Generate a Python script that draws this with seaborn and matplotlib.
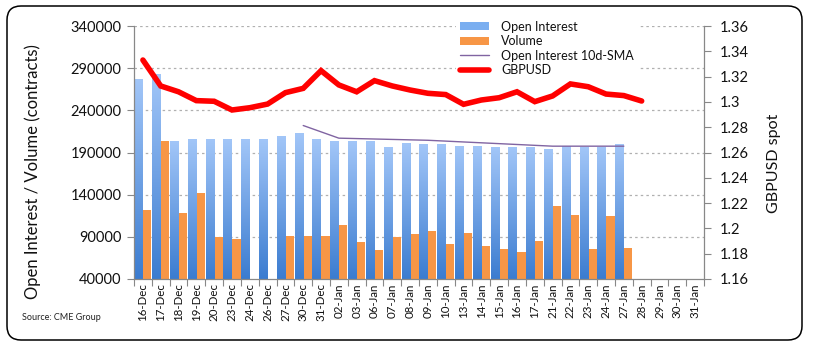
import numpy as np
import pandas as pd
import matplotlib
matplotlib.use("Agg")
import matplotlib.pyplot as plt
import seaborn as sns
from matplotlib.patches import FancyBboxPatch, Patch
from matplotlib.lines import Line2D
from matplotlib.colors import LinearSegmentedColormap
from matplotlib.ticker import FuncFormatter, MultipleLocator

nan = np.nan

dates = ["16-Dec", "17-Dec", "18-Dec", "19-Dec", "20-Dec", "23-Dec", "24-Dec", "26-Dec",
         "27-Dec", "30-Dec", "31-Dec", "02-Jan", "03-Jan", "06-Jan", "07-Jan", "08-Jan",
         "09-Jan", "10-Jan", "13-Jan", "14-Jan", "15-Jan", "16-Jan", "17-Jan", "21-Jan",
         "22-Jan", "23-Jan", "24-Jan", "27-Jan", "28-Jan", "29-Jan", "30-Jan", "31-Jan"]

open_interest = [277000, 283000, 202500, 206000, 206000, 206000, 205000, 206000,
                 209500, 212000, 206000, 202500, 202500, 202500, 196500, 201000,
                 199000, 199000, 197500, 197500, 196500, 196500, 196500, 194000,
                 197500, 196500, 196500, 200000, nan, nan, nan, nan]

volume = [122000, 203500, 118000, 142000, 90000, 87500, nan, nan,
          91000, 91000, 91000, 104000, 84000, 74500, 90000, 93500,
          97000, 81500, 94500, 79000, 75500, 72000, 85000, 126500,
          116000, 75500, 114500, 77000, nan, nan, nan, nan]

oi_sma = [nan, nan, nan, nan, nan, nan, nan, nan,
          nan, 222000, 214500, 207000, 206500, 206000, 205500, 205000,
          204500, 203500, 202500, 201500, 200500, 199500, 198500, 197500,
          197500, 197500, 197500, 197500, nan, nan, nan, nan]

gbpusd = [1.3331, 1.3126, 1.3080, 1.3010, 1.3005, 1.2936, 1.2954, 1.2983,
          1.3073, 1.3107, 1.3247, 1.3134, 1.3080, 1.3168, 1.3126, 1.3094,
          1.3068, 1.3058, 1.2981, 1.3015, 1.3033, 1.3080, 1.3002, 1.3047,
          1.3142, 1.3120, 1.3062, 1.3050, 1.3007, nan, nan, nan]

left_ticks = [40000, 90000, 140000, 190000, 240000, 290000, 340000]

OI_C = "#6FA3E8"
VOL_C = "#F79646"
SMA_C = "#8064A2"
RED = "#FF0000"

sns.set_theme(style="white")
plt.rcParams["font.family"] = ["Lato", "DejaVu Sans"]

W, H = 814, 347
fig = plt.figure(figsize=(W / 100, H / 100), dpi=100)
ax = fig.add_axes([134 / W, 1 - 279 / H, (704 - 134) / W, (279 - 26) / H])

pos = np.arange(len(dates))
df = pd.DataFrame({
    "date": dates * 2,
    "value": open_interest + volume,
    "series": ["Open Interest"] * len(dates) + ["Volume"] * len(dates),
})
sns.barplot(data=df, x="date", y="value", hue="series", order=dates,
            hue_order=["Open Interest", "Volume"],
            palette={"Open Interest": OI_C, "Volume": VOL_C},
            width=0.96, dodge=True, ax=ax, legend=False, saturation=1,
            edgecolor="none", linewidth=0, zorder=2)

ylo, yhi = 40000, 340000
cmap = LinearSegmentedColormap.from_list("oi", ["#3B7CD0", "#A2C6F8"])
grad = np.linspace(0, 1, 256).reshape(-1, 1)
for p in list(ax.patches):
    h = p.get_height()
    if not np.isfinite(h) or h <= 0:
        continue
    fc = p.get_facecolor()
    if abs(fc[2] - matplotlib.colors.to_rgba(OI_C)[2]) < 0.02 and fc[0] < 0.6:
        x0 = p.get_x()
        w = p.get_width()
        ax.imshow(grad, cmap=cmap, origin="lower", aspect="auto",
                  extent=[x0, x0 + w, ylo, p.get_y() + h], zorder=2.1,
                  interpolation="bilinear")

sns.lineplot(x=pos, y=oi_sma, ax=ax, color=SMA_C, linewidth=1.0, zorder=3)

ax.set_xlim(-0.5, len(dates) - 0.5)
ax.set_ylim(ylo, yhi)
ax.set_yticks(left_ticks)
ax.yaxis.set_major_formatter(FuncFormatter(lambda v, _: f"{int(v)}"))
for t in left_ticks[1:]:
    ax.axhline(t, color="#B0B0B0", lw=0.9, ls=(0, (2, 2.5)), zorder=1)

ax.set_xticks(pos)
ax.set_xticklabels(dates, rotation=90, fontsize=8.3, color="#111111")
ax.set_xticks(list(pos - 0.5) + [len(dates) - 0.5], minor=True)
ax.tick_params(axis="x", which="major", length=0, pad=3)
ax.tick_params(axis="x", which="minor", length=5, color="#888888", width=0.8,
               direction="out", bottom=True)
ax.tick_params(axis="y", which="major", length=5, color="#888888", width=0.8,
               direction="out", left=True, labelsize=10.5, labelcolor="#111111", pad=4)
ax.set_xlabel("")
ax.set_ylabel("Open Interest / Volume (contracts)", fontsize=12, color="#111111")
ax.yaxis.set_label_coords(-0.164, 0.423)
for s in ["top", "right"]:
    ax.spines[s].set_visible(False)
for s in ["left", "bottom"]:
    ax.spines[s].set_color("#888888")
    ax.spines[s].set_linewidth(0.9)

ax2 = ax.twinx()
sns.lineplot(x=pos, y=gbpusd, ax=ax2, color=RED, linewidth=4.0, zorder=4,
             solid_joinstyle="miter")
ax2.set_ylim(1.16, 1.36)
ax2.yaxis.set_major_locator(MultipleLocator(0.02))
ax2.yaxis.set_major_formatter(FuncFormatter(lambda v, _: f"{round(v, 2):g}"))
ax2.tick_params(axis="y", length=5, color="#888888", width=0.8, direction="out",
                right=True, labelsize=10.5, labelcolor="#111111", pad=6)
ax2.set_ylabel("GBPUSD spot", fontsize=11.5, color="#111111")
ax2.yaxis.set_label_coords(1.110, 0.458)
ax2.set_xlim(-0.5, len(dates) - 0.5)
for s in ["top", "left", "bottom"]:
    ax2.spines[s].set_visible(False)
ax2.spines["right"].set_color("#888888")
ax2.spines["right"].set_linewidth(0.9)
ax2.grid(False)

handles = [
    Patch(facecolor="#7AAEF0", edgecolor="none"),
    Patch(facecolor=VOL_C, edgecolor="none"),
    Line2D([0], [0], color=SMA_C, lw=1.0),
    Line2D([0], [0], color=RED, lw=4.0),
]
labels = ["Open Interest", "Volume", "Open Interest 10d-SMA", "GBPUSD"]
leg = ax2.legend(handles, labels, loc="upper left", bbox_to_anchor=(0.565, 1.036),
                 frameon=True, fontsize=9, labelspacing=0.2, handlelength=2.3,
                 handleheight=0.6, handletextpad=1.0, borderpad=0.3,
                 borderaxespad=0)
leg.get_frame().set_facecolor("white")
leg.get_frame().set_edgecolor("none")
leg.get_frame().set_alpha(1)
for t in leg.get_texts():
    t.set_color("#111111")

fig.text(22 / W, 1 - 318 / H, "Source: CME Group", fontsize=6.5, color="#222222",
         va="center", ha="left")

frame = FancyBboxPatch((7, H - 340), 802 - 7, 340 - 6,
                       boxstyle="round,pad=0,rounding_size=14",
                       transform=None, fill=False, ec="black", lw=1.1)
fig.patches.append(frame)

fig.savefig("out.png", dpi=100)
